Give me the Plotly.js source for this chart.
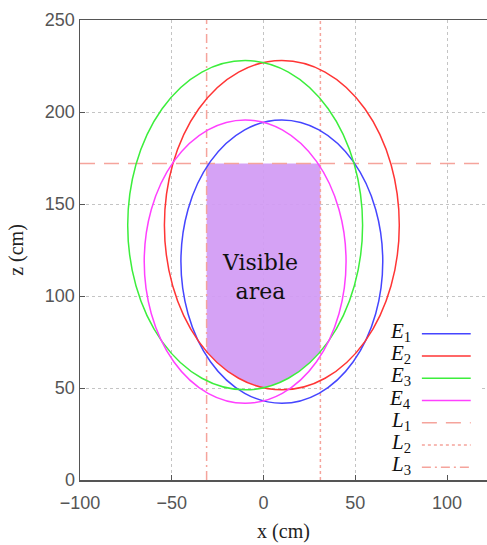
<!DOCTYPE html>
<html>
<head>
<meta charset="utf-8">
<script src="https://cdn.plot.ly/plotly-3.0.1.min.js"></script>
<style>html,body{margin:0;padding:0;background:#fff;}</style>
</head>
<body>
<div id="chart" style="width:487px;height:545px;"></div>
<script>
// Ellipse parameters (cm)
const ellipseNames = ['E1', 'E2', 'E3', 'E4'];
const centerX = [10, 10, -10, -10];
const centerZ = [118.7, 138.5, 138.5, 118.7];
const semiX = [55, 64, 64, 55];
const semiZ = [77, 89.5, 89.5, 77];
const ellipseColors = ['#4545ff', '#ff3535', '#3cee3c', '#ff40ff'];

// Limit lines (cm)
const lineNames = ['L1', 'L2', 'L3'];
const lineValues = [172, 31, -31];      // L1: z = 172, L2: x = 31, L3: x = -31
const lineDirections = ['h', 'v', 'v'];
const lineDashes = ['15px,9px', '3px,3px', '9px,4px,2px,4px'];
const limitColor = '#f5a49c';

const xTicks = [-100, -50, 0, 50, 100];
const zTicks = [0, 50, 100, 150, 200, 250];

// Visible area: inside L3..L2 horizontally, below L1, above the lower arcs of the ellipses
const zTop = lineValues[0], xRight = lineValues[1], xLeft = lineValues[2];
function lowerZ(i, x) {
  const u = (x - centerX[i]) / semiX[i];
  return centerZ[i] - semiZ[i] * Math.sqrt(Math.max(0, 1 - u * u));
}
const fx = [xLeft, xRight], fz = [zTop, zTop];
for (let k = 0; k <= 124; k++) {
  const x = xRight - (xRight - xLeft) * k / 124;
  let z = -Infinity;
  for (let i = 0; i < ellipseNames.length; i++) z = Math.max(z, lowerZ(i, x));
  fx.push(x); fz.push(z);
}
fx.push(xLeft); fz.push(zTop);

const traces = [{
  type: 'scatter', mode: 'lines', x: fx, y: fz, fill: 'toself',
  fillcolor: 'rgba(210,155,244,0.93)', line: {width: 0}, hoverinfo: 'skip', showlegend: false
}];

const shapes = [];
// white legend box
shapes.push({type: 'rect', xref: 'paper', yref: 'paper', x0: 0.75, x1: 0.985, y0: 0.013, y1: 0.35,
  fillcolor: '#ffffff', line: {width: 0}, layer: 'above'});
// limit lines
for (let j = 0; j < lineNames.length; j++) {
  if (lineDirections[j] === 'h') {
    shapes.push({type: 'line', xref: 'paper', yref: 'y', x0: 0, x1: 1, y0: lineValues[j], y1: lineValues[j],
      line: {color: limitColor, width: 1.5, dash: lineDashes[j]}});
  } else {
    shapes.push({type: 'line', xref: 'x', yref: 'paper', x0: lineValues[j], x1: lineValues[j], y0: 0, y1: 1,
      line: {color: limitColor, width: 1.5, dash: lineDashes[j]}});
  }
}
// ellipses
for (let i = 0; i < ellipseNames.length; i++) {
  shapes.push({type: 'circle', xref: 'x', yref: 'y',
    x0: centerX[i] - semiX[i], x1: centerX[i] + semiX[i],
    y0: centerZ[i] - semiZ[i], y1: centerZ[i] + semiZ[i],
    line: {color: ellipseColors[i], width: 1.5}});
}

// custom legend (label left of sample line)
const annotations = [];
const legendNames = ellipseNames.concat(lineNames);
const legY0 = 0.322, legDy = 0.0484;
for (let k = 0; k < legendNames.length; k++) {
  const y = legY0 - k * legDy;
  const nm = legendNames[k];
  annotations.push({xref: 'paper', yref: 'paper', x: 0.819, y: y, xanchor: 'right', yanchor: 'middle',
    showarrow: false, text: '<i>' + nm[0] + '</i><sub>' + nm.slice(1) + '</sub>',
    font: {family: 'Liberation Serif', size: 21, color: '#111'}});
  const isE = k < ellipseNames.length;
  shapes.push({type: 'line', xref: 'paper', yref: 'paper', x0: 0.84, x1: 0.96, y0: y - 0.004, y1: y - 0.004,
    line: isE ? {color: ellipseColors[k], width: 1.5}
              : {color: limitColor, width: 1.5, dash: lineDashes[k - ellipseNames.length]}});
}
annotations.push({xref: 'x', yref: 'y', x: -2, y: 110.5, showarrow: false,
  text: 'Visible<br>area', font: {family: 'DejaVu Serif', size: 22, color: '#111'}});

const axisCommon = {
  showgrid: true, gridcolor: '#c4c4c4', gridwidth: 1, griddash: '3px,3px',
  zeroline: false, showline: true, linecolor: '#555', linewidth: 1.5,
  ticks: 'inside', ticklen: 5, tickcolor: '#555',
  tickfont: {family: 'Liberation Sans', size: 18, color: '#555'}
};

const layout = {
  width: 487, height: 545,
  margin: {l: 80, r: 0, t: 20, b: 65},
  paper_bgcolor: '#fff', plot_bgcolor: '#fff',
  showlegend: false,
  xaxis: Object.assign({}, axisCommon, {
    range: [-100, 121.8], tickvals: xTicks, ticktext: xTicks.map(v => v < 0 ? '\u2212' + (-v) : String(v)),
    mirror: true, ticklabelstandoff: 6,
    title: {text: 'x (cm)', font: {family: 'Liberation Serif', size: 20, color: '#222'}, standoff: 12}
  }),
  yaxis: Object.assign({}, axisCommon, {
    range: [0, 250], tickvals: zTicks, ticktext: zTicks.map(String),
    title: {text: 'z (cm)', font: {family: 'Liberation Serif', size: 20, color: '#222'}, standoff: 16}
  }),
  shapes: shapes,
  annotations: annotations
};

Plotly.newPlot('chart', traces, layout, {displayModeBar: false, staticPlot: true});
</script>
</body>
</html>
